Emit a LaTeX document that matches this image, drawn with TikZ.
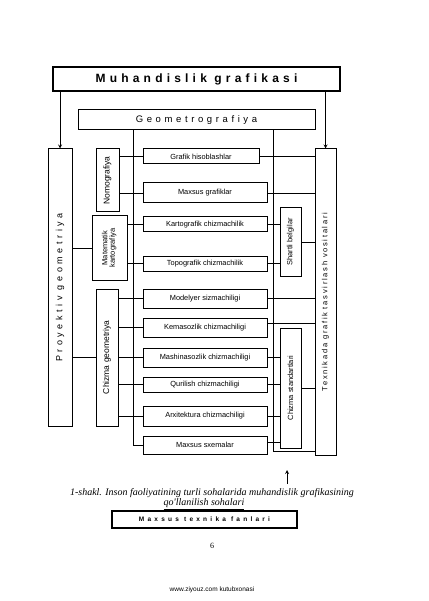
\documentclass[tikz,border=0pt]{standalone}
\usepackage{fontspec}
\setmainfont{Liberation Sans}
\newfontfamily\capfont{Liberation Serif}
\newfontfamily\titlefont[LetterSpace=35]{Liberation Sans}
\newfontfamily\geofont[LetterSpace=38]{Liberation Sans}
\newfontfamily\proyfont[LetterSpace=40]{Liberation Sans}
\newfontfamily\texfont[LetterSpace=23]{Liberation Sans}
\newfontfamily\fanfont[LetterSpace=50]{Liberation Sans}
\usepackage{tikz}
\usetikzlibrary{arrows, positioning, calc}

\begin{document}
\begin{tikzpicture}[x=1pt, y=-1pt, >=stealth, line width=0.8pt, every node/.style={inner sep=0pt},
    box/.style={draw, rectangle, line width=1pt, font=\fontsize{7.4}{8.5}\selectfont},
    vbox/.style={draw, rectangle, line width=1pt, font=\fontsize{7.5}{8.5}\selectfont}]
    \useasboundingbox (0,0) rectangle (428,601);

    % Muhandislik grafikasi (x=196, y=79)
    \node[box, line width=1.3pt, minimum width=287, minimum height=24, font=\titlefont\fontsize{12}{14}\selectfont\bfseries] (muh) at (196.5, 79) {Muhandislik grafikasi};

    % Geometrografiya (x=196, y=120)
    \node[box, minimum width=237, minimum height=20, font=\geofont\fontsize{9.5}{11}\selectfont] (geo) at (196.5, 120) {Geometrografiya};

    % Proyektiv geometriya, left column (x=60)
    \node[vbox, minimum width=24, minimum height=277, font=\proyfont\fontsize{9}{10}\selectfont] (proy) at (60, 287.5) {\rotatebox{90}{Proyektiv geometriya}};

    % Texnikada grafik tasvirlash vositalari, right column (x=325)
    \node[vbox, minimum width=21, minimum height=306, font=\texfont\fontsize{7.5}{9}\selectfont] (tex) at (325.5, 302) {\rotatebox{90}{Texnikada grafik tasvirlash vositalari}};

    % Middle column (x=108)
    \node[vbox, minimum width=23, minimum height=63, font=\fontsize{8.5}{10}\selectfont] (nomo) at (107.5, 180.5) {\rotatebox{90}{Nomografiya}};
    \node[vbox, minimum width=35, minimum height=64] (matk) at (109.5, 248) {\rotatebox{90}{\begin{tabular}{@{}c@{}}Matematik\\[-1pt]kartografiya\end{tabular}}};
    \node[vbox, minimum width=22, minimum height=137, font=\fontsize{8.5}{10}\selectfont] (chg) at (107, 357.5) {\rotatebox{90}{Chizma geometriya}};

    % Shartli belgilar and Chizma standartlari (x=290)
    \node[vbox, minimum width=21, minimum height=68] (shb) at (290.5, 242) {\rotatebox{90}{Shartli belgilar}};
    \node[vbox, minimum width=21, minimum height=120] (chs) at (290.5, 388) {\rotatebox{90}{Chizma standartlari}};

    % Branches (left edge x=143)
    \node[box, minimum width=116, minimum height=15] (gh) at (201, 156.5) {Grafik hisoblashlar};
    \node[box, minimum width=124, minimum height=20] (mg) at (205, 193) {Maxsus grafiklar};
    \node[box, minimum width=124, minimum height=15] (kc) at (205, 224.5) {Kartografik chizmachilik};
    \node[box, minimum width=124, minimum height=15] (tc) at (205, 263.5) {Topografik chizmachilik};
    \node[box, minimum width=124, minimum height=19] (ms) at (205, 298.5) {Modelyer sizmachiligi};
    \node[box, minimum width=124, minimum height=19] (kz) at (205, 327.5) {Kemasozlik chizmachiligi};
    \node[box, minimum width=124, minimum height=19] (mz) at (205, 357.5) {Mashinasozlik chizmachiligi};
    \node[box, minimum width=124, minimum height=15] (qc) at (205, 384.5) {Qurilish chizmachiligi};
    \node[box, minimum width=124, minimum height=20] (ac) at (205, 416) {Arxitektura chizmachiligi};
    \node[box, minimum width=124, minimum height=18] (sx) at (205, 445) {Maxsus sxemalar};

    % Caption and page
    \node[font=\capfont\itshape\fontsize{10}{12}\selectfont] (cap1) at (212, 493) {1-shakl. Inson faoliyatining turli sohalarida muhandislik grafikasining};
    \node[font=\capfont\itshape\fontsize{10}{12}\selectfont] (cap2) at (204, 504) {\underline{qo'llanilish sohalari}};
    \node[box, line width=1.2pt, minimum width=185, minimum height=17, font=\fanfont\fontsize{6.5}{8}\selectfont\bfseries] (fan) at (204.5, 519.5) {Maxsus texnika fanlari};
    \node[font=\capfont\fontsize{8}{9}\selectfont] (pnum) at (212, 546) {6};
    \node[font=\fontsize{6.5}{8}\selectfont] (url) at (212, 590) {www.ziyouz.com kutubxonasi};

    % Buses
    \coordinate (busL) at (133, 130);
    \coordinate (busR) at (273, 451);
    \coordinate (arrA) at (287, 484);
    \coordinate (arrB) at (287, 470);

    % Arrows
    \draw[->] (muh.south -| proy.north) -- (proy.north);
    \draw[->] (muh.south -| tex.north) -- (tex.north);
    \draw (busL) |- (sx.west);
    \draw (geo.south -| busR) -- (busR) -- (busR -| tex.west);
    \draw (proy.east |- matk) -- (matk.west);
    \draw (proy.east |- chg) -- (chg.west);

    % left side of branches
    \draw (gh.west) -- (gh.west -| nomo.east);
    \draw (mg.west) -- (mg.west -| nomo.east);
    \draw (kc.west) -- (kc.west -| matk.east);
    \draw (tc.west) -- (tc.west -| matk.east);
    \draw (ms.west) -- (ms.west -| chg.east);
    \draw (kz.west) -- (kz.west -| chg.east);
    \draw (mz.west) -- (mz.west -| chg.east);
    \draw (qc.west) -- (qc.west -| chg.east);
    \draw (ac.west) -- (ac.west -| chg.east);

    % right side of branches
    \draw (gh.east) -- (gh.east -| tex.west);
    \draw (mg.east) -- (mg.east -| tex.west);
    \draw (kc.east) -- (kc.east -| shb.west);
    \draw (tc.east) -- (tc.east -| shb.west);
    \draw (shb.east) -- (shb.east -| tex.west);
    \draw (ms.east) -- (ms.east -| tex.west);
    \draw ([yshift=4pt]kz.east) -- ([yshift=4pt]kz.east -| tex.west);
    \draw (mz.east) -- (mz.east -| chs.west);
    \draw (qc.east) -- (qc.east -| chs.west);
    \draw (ac.east) -- (ac.east -| chs.west);
    \draw ([yshift=3pt]sx.east) -- ([yshift=3pt]sx.east -| chs.west);
    \draw (chs.east) -- (chs.east -| tex.west);

    \draw[->] (arrA) -- (arrB);
\end{tikzpicture}
\end{document}
